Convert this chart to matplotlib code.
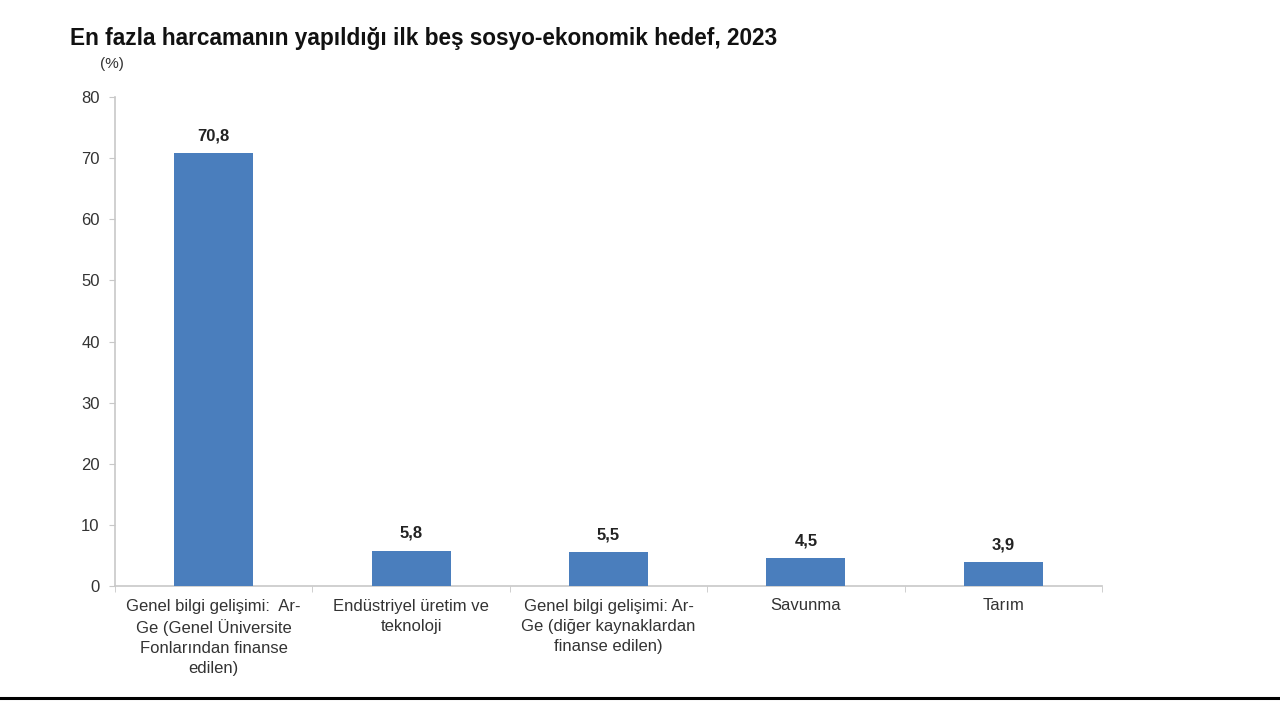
import matplotlib
matplotlib.use("Agg")
import matplotlib.pyplot as plt
from matplotlib.lines import Line2D

categories = [
    "Genel bilgi gelişimi:  Ar-\nGe (Genel Üniversite\nFonlarından finanse\nedilen)",
    "Endüstriyel üretim ve\nteknoloji",
    "Genel bilgi gelişimi: Ar-\nGe (diğer kaynaklardan\nfinanse edilen)",
    "Savunma",
    "Tarım",
]
values = [70.8, 5.8, 5.5, 4.5, 3.9]
value_labels = ["70,8", "5,8", "5,5", "4,5", "3,9"]
yticks = [0, 10, 20, 30, 40, 50, 60, 70, 80]

plt.rcParams['font.family'] = ['Liberation Sans', 'DejaVu Sans']

fig = plt.figure(figsize=(12.8, 7.01), dpi=100)
ax = fig.add_axes([115/1280, 1-586/701, (1102-115)/1280, (586-97)/701])

x = list(range(len(categories)))
ax.bar(x, values, width=0.4, color='#4a7ebd', zorder=3)
for xi, v, lab in zip(x, values, value_labels):
    ax.annotate(lab, (xi, v), xytext=(0, 7), textcoords='offset points',
                ha='center', va='bottom', fontsize=12, fontweight='bold', color='#222222')

ax.set_xlim(-0.5, len(categories) - 0.5)
ax.set_ylim(0, 80)
ax.set_yticks(yticks)
ax.set_yticklabels([str(t) for t in yticks], fontsize=12, color='#333333')
ax.set_xticks(x)
ax.set_xticklabels(categories, fontsize=12, color='#333333', linespacing=1.42)
ax.tick_params(axis='x', length=0, pad=9)
ax.tick_params(axis='y', length=4, color='#c8c8c8', pad=7)

# minor ticks between categories on x axis
ax.set_xticks([i + 0.5 for i in range(-1, len(categories))], minor=True)
ax.tick_params(axis='x', which='minor', length=4, color='#c8c8c8')

for s in ['top', 'right']:
    ax.spines[s].set_visible(False)
for s in ['left', 'bottom']:
    ax.spines[s].set_color('#c8c8c8')
    ax.spines[s].set_linewidth(1.2)

fig.text(70/1280, 1-38/701, "En fazla harcamanın yapıldığı ilk beş sosyo-ekonomik hedef, 2023",
         fontsize=16.3, fontweight='bold', color='#111111', va='center', ha='left')
fig.text(100/1280, 1-64/701, "(%)", fontsize=11, color='#333333', va='center', ha='left')

fig.add_artist(Line2D([0, 1], [1-698/701, 1-698/701], transform=fig.transFigure,
                      color='black', linewidth=2.2))

fig.savefig("out.png", dpi=100, facecolor='white')
